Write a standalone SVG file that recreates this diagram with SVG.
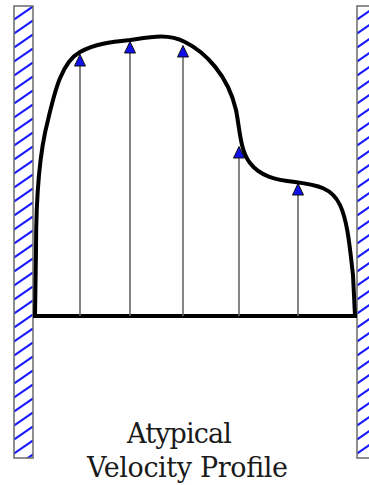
<svg xmlns="http://www.w3.org/2000/svg" width="369" height="485" viewBox="0 0 369 485">
<style>
.wall{stroke:#6a6a6a;stroke-width:1.5}
.shaft{stroke:#666;stroke-width:1.6;fill:none}
.head{fill:#1010e8;stroke:#111;stroke-width:1}
.profile{fill:none;stroke:#000;stroke-width:4;stroke-linejoin:round;stroke-linecap:round}
.label{font-family:"DejaVu Serif",serif;font-size:27px;fill:#1a1a1a}
</style>
<defs>
<pattern id="hatchL" patternUnits="userSpaceOnUse" x="14" y="6" width="19" height="14">
<rect width="19" height="14" fill="#fff"/>
<path d="M0,13.5 L19,0.5 M0,27.5 L19,14.5 M0,-0.5 L19,-13.5" stroke="#1a1aff" stroke-width="2.2"/>
</pattern>
<pattern id="hatchR" patternUnits="userSpaceOnUse" x="357" y="6" width="19" height="14">
<rect width="19" height="14" fill="#fff"/>
<path d="M0,13.5 L19,0.5 M0,27.5 L19,14.5 M0,-0.5 L19,-13.5" stroke="#1a1aff" stroke-width="2.2"/>
</pattern>
</defs>
<rect width="369" height="485" fill="#fff"/>
<g id="wall-left"><rect class="wall" fill="url(#hatchL)" x="14" y="6" width="19" height="452"/></g>
<g id="wall-right"><rect class="wall" fill="url(#hatchR)" x="357" y="6" width="19" height="452"/></g>
<g id="baseline"><line x1="33" y1="316" x2="357" y2="316" stroke="#000" stroke-width="4"/></g>
<g id="connectors">
<line class="shaft" x1="80" y1="316" x2="80" y2="64"/>
<line class="shaft" x1="130" y1="316" x2="130" y2="52"/>
<line class="shaft" x1="183" y1="316" x2="183" y2="56"/>
<line class="shaft" x1="239" y1="316" x2="239" y2="157"/>
<line class="shaft" x1="298" y1="316" x2="298" y2="194"/>
<polygon class="head" points="80,54.5 74.5,66 85.5,66"/>
<polygon class="head" points="130,41.5 124.5,53 135.5,53"/>
<polygon class="head" points="183,45.5 177.5,57 188.5,57"/>
<polygon class="head" points="239,146.5 233.5,158 244.5,158"/>
<polygon class="head" points="298,183.5 292.5,195 303.5,195"/>
</g>
<g id="profile">
<path class="profile" d="M35,316 L36,250 C36,200 40,150 48,120 C55,90 62,62 80,52 C95,44 110,42 130,40 C150,37 168,33 185,42 C205,52 228,75 236,110 C240,130 240,150 250,163 C260,176 275,180 295,182 C318,185 332,188 340,205 C348,222 350,250 353,275 L355,316"/>
</g>
<g id="label">
<text class="label" x="127" y="443" textLength="105" lengthAdjust="spacing">Atypical</text>
<text class="label" x="87" y="477" textLength="201" lengthAdjust="spacing">Velocity Profile</text>
</g>
</svg>
